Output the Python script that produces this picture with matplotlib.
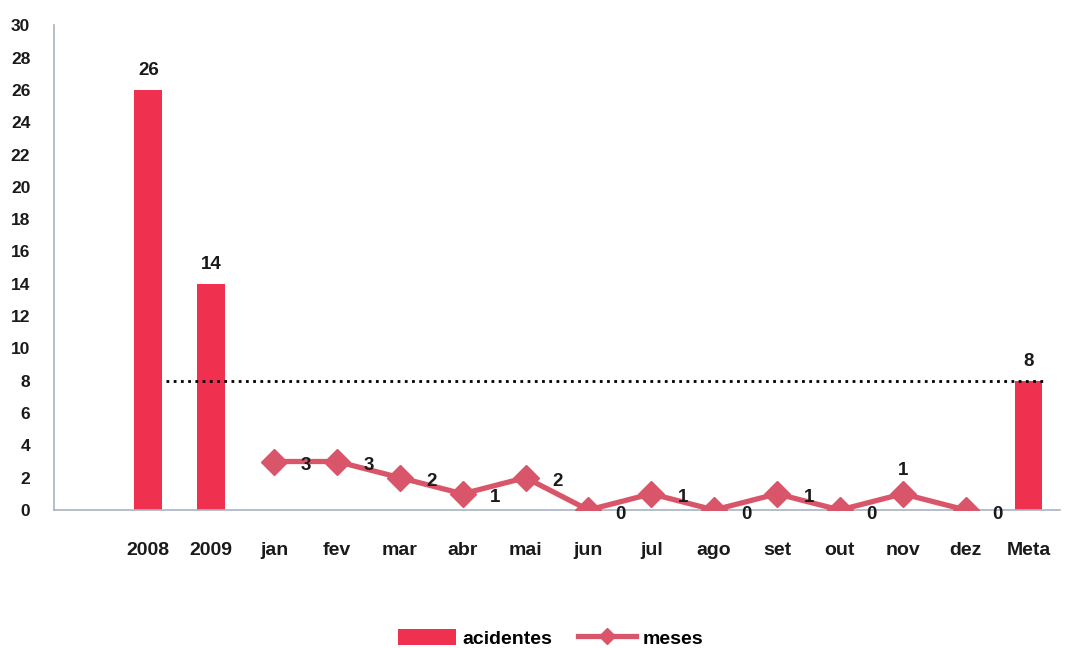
import matplotlib
matplotlib.use("Agg")
import matplotlib.pyplot as plt
from matplotlib.lines import Line2D
from matplotlib.patches import Patch

plt.rcParams['font.family'] = ['Liberation Sans', 'DejaVu Sans']
plt.rcParams['font.weight'] = 'bold'

categories = ['2008', '2009', 'jan', 'fev', 'mar', 'abr', 'mai', 'jun',
              'jul', 'ago', 'set', 'out', 'nov', 'dez', 'Meta']
bar_labels = ['2008', '2009', 'Meta']
bar_values = [26, 14, 8]
month_labels = ['jan', 'fev', 'mar', 'abr', 'mai', 'jun',
                'jul', 'ago', 'set', 'out', 'nov', 'dez']
month_values = [3, 3, 2, 1, 2, 0, 1, 0, 1, 0, 1, 0]
meta_value = 8
y_ticks = list(range(0, 31, 2))

bar_color = '#f0304f'
line_color = '#d9566a'
axis_color = '#a9b3c0'
text_color = '#1a1a1a'

fig = plt.figure(figsize=(10.84, 6.48), dpi=100)
ax = fig.add_axes([0.0498, 0.213, 0.928, 0.748])

pos = {c: i for i, c in enumerate(categories)}
bar_x = [pos[c] for c in bar_labels]
month_x = [pos[c] for c in month_labels]

bw = 0.44
ax.bar(bar_x, bar_values, width=bw, color=bar_color, zorder=2)
for x, v in zip(bar_x, bar_values):
    ax.annotate(str(v), (x, v), xytext=(0, 8), textcoords='offset points',
                ha='center', va='bottom', fontsize=13.5, fontweight='bold',
                color=text_color)

ax.plot(month_x, month_values, color=line_color, lw=3.8, marker='D',
        markersize=13, zorder=3)
for x, v, lab in zip(month_x, month_values, month_labels):
    if lab == 'nov':
        ax.annotate(str(v), (x, v), xytext=(0, 11), textcoords='offset points',
                    ha='center', va='bottom', fontsize=13.5, fontweight='bold',
                    color=text_color)
    else:
        ax.annotate(str(v), (x, v), xytext=(23, -3), textcoords='offset points',
                    ha='center', va='center', fontsize=13.5, fontweight='bold',
                    color=text_color)

# target line running across to the goal bar
ax.plot([pos['2008'] + 0.28, pos['Meta'] + 0.24], [meta_value, meta_value],
        color='black', ls=(0, (1, 1.6)), lw=2, zorder=4)

ax.set_xlim(-1.5, 14.5)
ax.set_ylim(0, 30)
ax.set_yticks(y_ticks)
ax.set_xticks(range(len(categories)))
ax.set_xticklabels(categories)
ax.tick_params(axis='y', length=0, pad=17, labelsize=12.5)
ax.tick_params(axis='x', length=0, pad=23, labelsize=14)
for lab in ax.get_xticklabels() + ax.get_yticklabels():
    lab.set_fontweight('bold')
    lab.set_color(text_color)

for s in ['top', 'right']:
    ax.spines[s].set_visible(False)
for s in ['left', 'bottom']:
    ax.spines[s].set_color(axis_color)
    ax.spines[s].set_linewidth(1.2)

handles = [Patch(facecolor=bar_color, edgecolor='none'),
           Line2D([0], [0], color=line_color, lw=3.8, marker='D', markersize=8)]
fig.legend(handles, ['acidentes', 'meses'], loc='center', ncol=2,
           bbox_to_anchor=(0.508, 0.015), frameon=False, handlelength=3.0,
           handleheight=0.9, columnspacing=1.3, handletextpad=0.35,
           prop={'size': 14, 'weight': 'bold'})

fig.savefig('out.png', dpi=100)
